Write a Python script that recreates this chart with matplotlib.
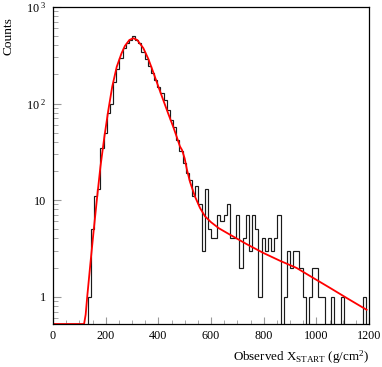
import numpy as np
import matplotlib
matplotlib.use('Agg')
import matplotlib.pyplot as plt
from matplotlib.ticker import FixedLocator, NullFormatter

plt.rcParams['font.family'] = ['Liberation Serif', 'DejaVu Serif']
plt.rcParams['mathtext.fontset'] = 'custom'
plt.rcParams['mathtext.rm'] = 'Liberation Serif'
plt.rcParams['mathtext.it'] = 'Liberation Serif:italic'

# histogram: 100 bins of 12 g/cm2 from 0 to 1200
bin_edges = np.arange(0, 1201, 12)
counts = [0, 0, 0, 0, 0, 0, 0, 0, 0, 0,
          0, 1, 5, 11, 13, 35, 49, 79, 100, 168,
          230, 294, 373, 420, 455, 500, 460, 426, 344, 290,
          245, 206, 175, 150, 130, 108, 86, 68, 57, 42,
          32, 24, 19, 16, 11, 14, 9, 3, 13, 5,
          4, 4, 7, 6, 7, 9, 4, 4, 7, 2,
          4, 7, 3, 7, 5, 1, 4, 3, 4, 3,
          4, 7, 0, 1, 3, 2, 3, 3, 2, 1,
          0, 1, 2, 2, 1, 1, 0, 0, 1, 0,
          0, 1, 0, 0, 0, 0, 0, 0, 1, 0]

# fitted curve
fit_x = [0, 118, 124, 130, 142, 155, 168, 180, 195, 210, 225, 242, 260, 273,
         290, 305, 320, 343, 362, 381, 400, 419, 438, 457, 470, 482, 490, 500,
         508, 520, 539, 558, 577, 600, 630, 672, 735, 799, 862, 925, 990, 1052,
         1120, 1191]
fit_y = [0.52, 0.52, 0.65, 1.0, 2.2, 5, 11, 22, 45, 85, 150, 240, 330, 395,
         455, 475, 455, 375, 290, 210, 150, 108, 78, 57, 45, 36, 33, 27,
         21, 15.5, 10.9, 8.3, 6.8, 5.9, 5.1, 4.38, 3.5, 2.83, 2.35, 1.98, 1.55,
         1.23, 0.95, 0.73]

ymin, ymax = 0.52, 1000

fig = plt.figure(figsize=(3.82, 3.67), dpi=100)
ax = fig.add_axes([53/382, 1 - 324/367, 316/382, 317/367])

vals = np.where(np.array(counts) > 0, counts, 1e-3).astype(float)
ax.stairs(vals, bin_edges, color='#1a1a1a', lw=0.85, baseline=1e-3)
ax.plot(fit_x, fit_y, color='red', lw=1.3)

ax.set_yscale('log')
ax.set_xlim(0, 1200)
ax.set_ylim(ymin, ymax)

ax.set_xticks(np.arange(0, 1201, 200))
ax.set_xticklabels([str(v) for v in range(0, 1201, 200)])
ax.xaxis.set_minor_locator(FixedLocator(np.arange(0, 1201, 50)))
ax.set_yticks([1, 10, 100, 1000])
ax.set_yticklabels(['1', '10', r'$10^{\ 2}$', r'$10^{\ 3}$'])
minors = [m * 10.0 ** e for e in range(-1, 3) for m in range(2, 10)]
ax.yaxis.set_minor_locator(FixedLocator([v for v in minors if ymin < v < ymax]))
ax.yaxis.set_minor_formatter(NullFormatter())

ax.tick_params(which='both', direction='in', color='#999999', labelsize=8.7,
               top=False, right=False)
ax.tick_params(axis='x', which='major', length=5, pad=4)
ax.tick_params(axis='x', which='minor', length=3)
ax.tick_params(axis='y', which='major', length=6, pad=5)
ax.tick_params(axis='y', which='minor', length=3.5)
for s in ax.spines.values():
    s.set_linewidth(0.9)

fig.text(8/382, 1 - 17/367, 'Counts', rotation=90, ha='center', va='top',
         fontsize=9.6)
fig.text(369/382, 1 - 357/367,
         r'Observed X$_{\mathrm{START}}$ (g/cm$^{2}$)',
         ha='right', va='center', fontsize=9.4)

fig.savefig('out.png', dpi=100)
